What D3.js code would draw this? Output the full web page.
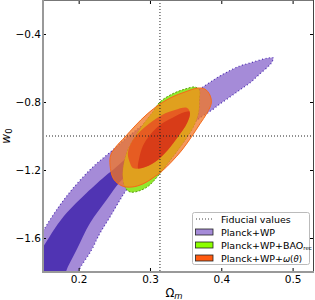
<!DOCTYPE html>
<html><head><meta charset="utf-8">
<script src="https://cdn.jsdelivr.net/npm/d3@7"></script>
<style>body{margin:0;background:#fff}svg{display:block}text{font-family:"DejaVu Sans",sans-serif}</style>
</head><body><svg id="c" width="315" height="300"></svg>
<script>
// ---- data (Omega_m, w0) ----
const xTicks = [0.2, 0.3, 0.4, 0.5];
const yTicks = [-0.4, -0.8, -1.2, -1.6];
const fiducialOm = [0.314];
const fiducialW0 = [-1.0];
const legendLabels = ["Fiducial values", "Planck+WP", "Planck+WP+BAO", "Planck+WP+"];

const purple95 = [[0.132,-1.671],[0.150,-1.559],[0.167,-1.447],[0.190,-1.318],[0.220,-1.182],[0.248,-1.082],
  [0.272,-0.994],[0.300,-0.906],[0.328,-0.829],[0.356,-0.765],[0.370,-0.724],[0.391,-0.665],[0.408,-0.624],
  [0.426,-0.588],[0.440,-0.571],[0.454,-0.553],[0.466,-0.541],[0.473,-0.541],[0.471,-0.565],[0.468,-0.582],
  [0.454,-0.635],[0.440,-0.688],[0.426,-0.729],[0.412,-0.771],[0.398,-0.812],[0.387,-0.847],[0.370,-0.894],
  [0.349,-0.965],[0.328,-1.041],[0.307,-1.129],[0.286,-1.224],[0.267,-1.318],[0.258,-1.376],[0.244,-1.476],
  [0.230,-1.571],[0.218,-1.671],[0.199,-1.800],[0.194,-1.876],[0.132,-1.876]];
const purple68 = [[0.132,-1.759],[0.150,-1.653],[0.167,-1.541],[0.183,-1.453],[0.211,-1.335],[0.239,-1.229],
  [0.248,-1.200],[0.272,-1.112],[0.300,-1.024],[0.321,-0.953],[0.331,-0.953],[0.328,-0.994],[0.300,-1.112],
  [0.279,-1.188],[0.258,-1.269],[0.239,-1.376],[0.216,-1.512],[0.197,-1.671],[0.182,-1.800],[0.178,-1.876],
  [0.132,-1.876]];
const green95 = [[0.265,-1.300],[0.262,-1.229],[0.264,-1.153],[0.269,-1.082],[0.279,-1.006],[0.290,-0.935],
  [0.303,-0.865],[0.314,-0.800],[0.331,-0.753],[0.349,-0.724],[0.363,-0.712],[0.369,-0.729],[0.369,-0.788],
  [0.368,-0.859],[0.362,-0.935],[0.351,-1.012],[0.337,-1.094],[0.323,-1.171],[0.310,-1.241],[0.298,-1.294],
  [0.284,-1.324],[0.272,-1.329]];
const green68 = [[0.283,-1.188],[0.285,-1.129],[0.290,-1.059],[0.300,-0.994],[0.314,-0.935],[0.331,-0.894],
  [0.349,-0.859],[0.360,-0.859],[0.362,-0.906],[0.353,-0.976],[0.339,-1.053],[0.321,-1.129],[0.300,-1.200],
  [0.286,-1.224]];
const orange95 = [[0.244,-1.171],[0.245,-1.112],[0.252,-1.065],[0.265,-1.006],[0.279,-0.941],[0.296,-0.871],
  [0.314,-0.812],[0.331,-0.771],[0.349,-0.741],[0.367,-0.718],[0.377,-0.724],[0.384,-0.759],[0.386,-0.806],
  [0.380,-0.865],[0.370,-0.929],[0.359,-1.000],[0.345,-1.082],[0.330,-1.153],[0.317,-1.206],[0.304,-1.247],
  [0.290,-1.282],[0.275,-1.300],[0.261,-1.294],[0.249,-1.253]];
const orange68 = [[0.272,-1.159],[0.269,-1.100],[0.276,-1.024],[0.293,-0.947],[0.317,-0.876],[0.335,-0.847],
  [0.352,-0.835],[0.356,-0.865],[0.352,-0.924],[0.339,-1.006],[0.325,-1.082],[0.307,-1.153],[0.289,-1.188],
  [0.276,-1.188]];

// ---- layout ----
const svg = d3.select("#c");
const L = 43, R = 314, T = 0, B = 272;
const x = d3.scaleLinear().domain([0.15, 0.53]).range([L, R]);
const y = d3.scaleLinear().domain([-1.8, -0.2]).range([B, T]);

svg.append("defs").append("clipPath").attr("id","plot")
  .append("rect").attr("x",L).attr("y",T).attr("width",R-L).attr("height",B-T);
const line = d3.line().x(d=>x(d[0])).y(d=>y(d[1])).curve(d3.curveCatmullRomClosed.alpha(0.5));
const defs = svg.select("defs");
defs.append("clipPath").attr("id","cO95").append("path").attr("d", line(orange95));
defs.append("clipPath").attr("id","cO68").append("path").attr("d", line(orange68));

const g = svg.append("g").attr("clip-path","url(#plot)");
g.append("path").attr("d", line(purple95)).attr("fill","#a58bd8")
  .attr("stroke","#4a2cb0").attr("stroke-width",1.2).attr("stroke-dasharray","1,2.5");
g.append("path").attr("d", line(purple68)).attr("fill","#5034b3");
g.append("path").attr("d", line(green95)).attr("fill","#92e82c")
  .attr("stroke","#5aa010").attr("stroke-width",1).attr("stroke-dasharray","2,1.5");
g.append("path").attr("d", line(orange95)).attr("fill","rgb(240,118,38)").attr("fill-opacity",0.75);
g.append("g").attr("clip-path","url(#cO95)")
  .append("path").attr("d", line(green95)).attr("fill","#e0a01e");
g.append("path").attr("d", line(orange95)).attr("fill","none").attr("stroke","#f46a1a").attr("stroke-width",1);
g.append("path").attr("d", line(orange68)).attr("fill","#e65c22");
g.append("g").attr("clip-path","url(#cO68)")
  .append("path").attr("d", line(green68)).attr("fill","#d83c18");

// fiducial lines
g.selectAll(".fv").data(fiducialOm).enter().append("line")
  .attr("x1",d=>x(d)).attr("x2",d=>x(d)).attr("y1",T).attr("y2",B)
  .attr("stroke","#222").attr("stroke-width",1).attr("stroke-dasharray","1,2");
g.selectAll(".fh").data(fiducialW0).enter().append("line")
  .attr("x1",L).attr("x2",R).attr("y1",d=>y(d)).attr("y2",d=>y(d))
  .attr("stroke","#222").attr("stroke-width",1).attr("stroke-dasharray","1,2");

// axes
const fmt = d3.format(".1f");
const ax = (gen, tr) => {
  const a = svg.append("g").attr("transform", tr).call(gen);
  a.select(".domain").remove();
  a.selectAll("line").attr("stroke","#000").attr("stroke-width",1);
  a.selectAll("text").attr("font-size","10.5px").attr("fill","#000").attr("font-family","DejaVu Sans");
  return a;
};
ax(d3.axisBottom(x).tickValues(xTicks).tickFormat(fmt).tickSize(-4).tickPadding(4), `translate(0,${B})`);
ax(d3.axisTop(x).tickValues(xTicks).tickFormat("").tickSize(-4), `translate(0,${T})`);
ax(d3.axisLeft(y).tickValues(yTicks).tickFormat(fmt).tickSize(-3).tickPadding(2), `translate(${L},0)`);
ax(d3.axisRight(y).tickValues(yTicks).tickFormat("").tickSize(-4), `translate(${R},0)`);

// spines
svg.append("line").attr("x1",L).attr("x2",R).attr("y1",T+0.5).attr("y2",T+0.5).attr("stroke","#777").attr("stroke-width",1);
svg.append("line").attr("x1",R-0.5).attr("x2",R-0.5).attr("y1",T).attr("y2",B).attr("stroke","#444").attr("stroke-width",1);
svg.append("line").attr("x1",L).attr("x2",L).attr("y1",T).attr("y2",B+1).attr("stroke","#999").attr("stroke-width",2);
svg.append("line").attr("x1",L-1).attr("x2",R).attr("y1",B).attr("y2",B).attr("stroke","#999").attr("stroke-width",2);

// axis labels
const xl = svg.append("text").attr("x",174).attr("y",297).attr("text-anchor","middle").attr("font-size","11.5px");
xl.append("tspan").text("Ω");
xl.append("tspan").attr("font-style","italic").attr("font-size","8.5px").attr("dy",2).text("m");
const yl = svg.append("text").attr("transform","translate(10,136) rotate(-90)").attr("text-anchor","middle").attr("font-size","12px");
yl.append("tspan").attr("font-style","italic").text("w");
yl.append("tspan").attr("font-size","8.5px").attr("dy",2).text("0");

// legend
const lg = svg.append("g");
lg.append("rect").attr("x",192.5).attr("y",212.5).attr("width",117).attr("height",52).attr("rx",2)
  .attr("fill","#fff").attr("fill-opacity",0.9).attr("stroke","#bbb").attr("stroke-width",1);
const rowY = [219, 232, 245, 258];
lg.append("line").attr("x1",196).attr("x2",213).attr("y1",rowY[0]).attr("y2",rowY[0])
  .attr("stroke","#444").attr("stroke-width",1).attr("stroke-dasharray","1,2");
const patchFill = [null, "#a58bd8", "#8cff00", "#ff5a10"];
[1,2,3].forEach(i=>{
  lg.append("rect").attr("x",195.5).attr("y",rowY[i]-3).attr("width",17.5).attr("height",6)
    .attr("fill",patchFill[i]).attr("stroke","#222").attr("stroke-width",0.8);
});
legendLabels.forEach((t,i)=>{
  const tx = lg.append("text").attr("x",221).attr("y",rowY[i]+3.5).attr("font-size","9.5px").text(t);
  if (i===2) tx.append("tspan").attr("font-size","5.5px").attr("dy",1.5).text("rec");
  if (i===3) {
    tx.append("tspan").attr("font-style","italic").attr("font-size","8.5px").text("ω");
    tx.append("tspan").attr("font-size","8.5px").text("(");
    tx.append("tspan").attr("font-style","italic").attr("font-size","8.5px").text("θ");
    tx.append("tspan").attr("font-size","8.5px").text(")");
  }
});
</script></body></html>
